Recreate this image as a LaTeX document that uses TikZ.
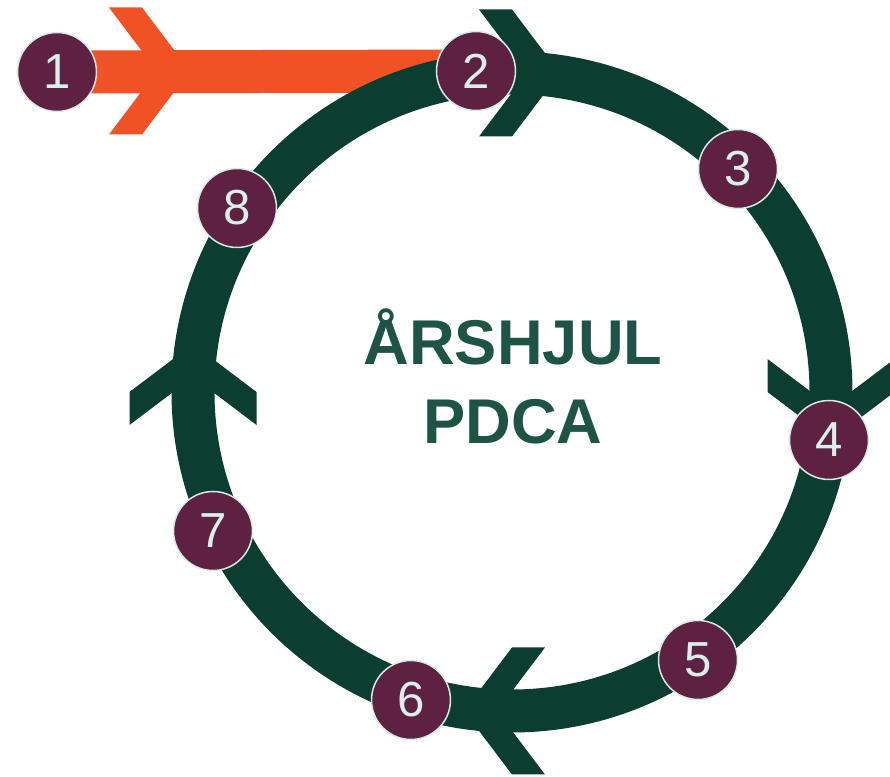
\documentclass[tikz,border=0pt]{standalone}
\usepackage{fontspec}
\setmainfont{Liberation Sans}
\usetikzlibrary{backgrounds}
\definecolor{wheel}{HTML}{0B3D31}
\definecolor{feed}{HTML}{F05225}
\definecolor{plum}{HTML}{5F2141}
\definecolor{rim}{HTML}{D2ECE7}
\definecolor{numtext}{HTML}{D8EFEA}
\definecolor{heading}{HTML}{1E5446}

\begin{document}
\begin{tikzpicture}[
  x=0.02cm, y=0.02cm,
  num/.style={
    circle, fill=plum, draw=rim, line width=0.03cm, minimum size=1.58cm,
    inner sep=0pt, text=numtext, font=\fontsize{28}{28}\selectfont
  },
  band/.style={line width=0.86cm},
  chev/.pic={
    \fill[pic actions] (-33,63.5) -- (0,63.5) -- (48,0) -- (0,-63.5)
      -- (-33,-63.5) -- (15,0) -- cycle;
  },
]
\useasboundingbox (0,0) rectangle (890,777);

% Steps round the wheel
\node[num] (n1) at (57,705)  {1};
\node[num] (n2) at (476,706) {2};
\node[num] (n3) at (738,608) {3};
\node[num] (n4) at (829,337) {4};
\node[num] (n5) at (698,117) {5};
\node[num] (n6) at (411,77)  {6};
\node[num] (n7) at (213,246) {7};
\node[num] (n8) at (237,569) {8};

% Title in the middle
\node[anchor=south, align=center, inner sep=0pt, text=heading,
      font=\fontsize{36}{44.5}\selectfont\bfseries] (title) at (513,333)
      {ÅRSHJUL\\PDCA};

\begin{scope}[on background layer]
  % feed line: 1 -> 2
  \draw[band, feed] (n1.center) -- (n2.center);
  \pic[fill=feed] at (142,706) {chev};

  % the wheel, running clockwise
  \draw[band, wheel] (512,385) circle[radius=319];
  \pic[fill=wheel]             at (512,704) {chev};
  \pic[fill=wheel, rotate=-90] at (831,385) {chev};
  \pic[fill=wheel, rotate=180] at (512,66)  {chev};
  \pic[fill=wheel, rotate=90]  at (193,385) {chev};
\end{scope}
\end{tikzpicture}
\end{document}
